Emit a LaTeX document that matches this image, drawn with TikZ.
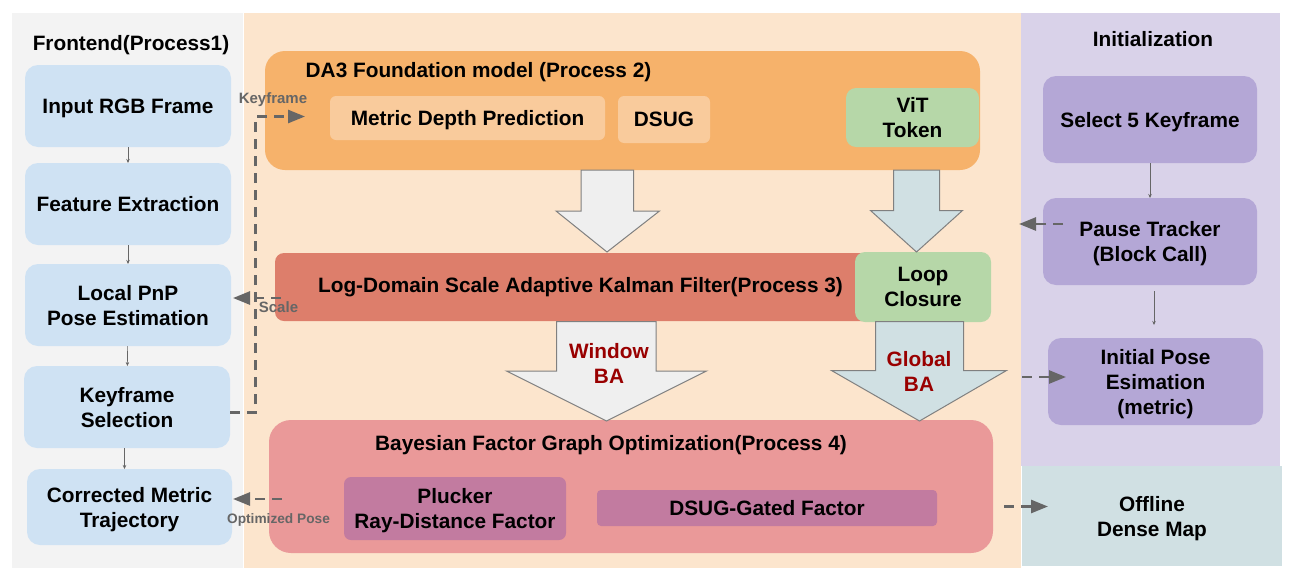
\documentclass[tikz,border=0pt]{standalone}
\usepackage{fontspec}
\setmainfont{Liberation Sans}
\usepackage{xcolor}
\usetikzlibrary{calc,
	positioning,
	arrows.meta}
\definecolor{panelgray}{HTML}{F3F3F3}
\definecolor{panelorange}{HTML}{FCE5CD}
\definecolor{panelpurple}{HTML}{D9D2E9}
\definecolor{panelteal}{HTML}{D0E0E3}
\definecolor{boxblue}{HTML}{CFE2F3}
\definecolor{boxpurple}{HTML}{B4A7D6}
\definecolor{boxorange}{HTML}{F6B26B}
\definecolor{boxpeach}{HTML}{F9CB9C}
\definecolor{boxgreen}{HTML}{B6D7A8}
\definecolor{boxred}{HTML}{DD7E6B}
\definecolor{boxpink}{HTML}{EA9999}
\definecolor{boxplum}{HTML}{C27BA0}
\definecolor{blockgray}{HTML}{EFEFEF}
\definecolor{dashgray}{HTML}{666666}
\definecolor{bardred}{HTML}{990000}
\tikzstyle{txt}=[font=\fontsize{20.8}{25}\selectfont\bfseries, align=center, text depth=-1pt, inner sep=0, outer sep=0]
\tikzstyle{small}=[font=\fontsize{15}{18}\selectfont\bfseries, text=dashgray, text depth=0pt, inner sep=0, outer sep=0]
\tikzstyle{panel}=[inner sep=0, outer sep=0]
\tikzstyle{front}=[txt, fill=boxblue, rounded corners=13pt, minimum width=206pt, minimum height=82pt]
\tikzstyle{init}=[txt, fill=boxpurple, rounded corners=13pt, minimum width=214pt, minimum height=87pt]
\tikzstyle{peach}=[txt, fill=boxpeach, rounded corners=6pt]
\tikzstyle{green}=[txt, fill=boxgreen, rounded corners=10pt]
\tikzstyle{plum}=[txt, fill=boxplum, rounded corners=7pt]
\tikzstyle{block}=[draw=gray, line width=1pt, line join=miter]
\tikzstyle{thin}=[draw=dashgray, line width=0.6pt, -{Stealth[length=4pt,width=3.5pt]}]
\tikzstyle{dasharrow}=[draw=dashgray, line width=2.6pt, dash pattern=on 10pt off 7pt, -{Triangle[length=17pt,width=13pt,sep=0pt]}]
\begin{document}
\begin{tikzpicture}[x=1pt, y=-1pt]
    \useasboundingbox (0,0) rectangle (1295,576);

    \node[panel, fill=panelgray, minimum width=231pt, minimum height=555pt] (frontpanel) at (127.5,290.5) {};
    \node[panel, fill=panelorange, minimum width=777pt, minimum height=555pt] (midpanel) at (632.5,290.5) {};
    \node[panel, fill=panelpurple, minimum width=259pt, minimum height=453pt] (initpanel) at (1150.5,239.5) {};
    \node[txt, fill=panelteal, minimum width=260pt, minimum height=100pt] (offline) at (1152,516) {Offline\\Dense Map};

    \node[txt] (fronttitle) at (131,43) {Frontend(Process1)};
    \node[front] (input) at (128,106) {Input RGB Frame};
    \node[front] (feature) at (128,204) {Feature Extraction};
    \node[front] (local) at (128,305) {Local PnP\\Pose Estimation};
    \node[front] (kfsel) at (127,407) {Keyframe\\Selection};
    \node[front, minimum width=205pt, minimum height=76pt] (corrected) at (129.5,507) {Corrected Metric\\Trajectory};

    \node[fill=boxorange, rounded corners=20pt, minimum width=715pt, minimum height=119pt, inner sep=0] (da3) at (622.5,110.5) {};
    \node[txt] (da3title) at (478.5,70) {DA3 Foundation model (Process 2)};
    \node[peach, minimum width=275pt, minimum height=44pt] (metric) at (467.5,118) {Metric Depth Prediction};
    \node[peach, minimum width=92pt, minimum height=47pt] (dsug) at (664,119.5) {DSUG};
    \node[green, minimum width=133pt, minimum height=59pt] (vit) at (912.5,117.5) {ViT\\Token};

    \node[fill=boxred, rounded corners=9pt, minimum width=600pt, minimum height=68pt, inner sep=0] (logkf) at (575,287) {};
    \node[txt] (logtitle) at (580.5,285) {Log-Domain Scale Adaptive Kalman Filter(Process 3)};
    \node[green, minimum width=136pt, minimum height=70pt] (loop) at (923,287) {Loop\\Closure};

    \node[fill=boxpink, rounded corners=22pt, minimum width=724pt, minimum height=133pt, inner sep=0] (bayes) at (631,486.5) {};
    \node[txt] (bayestitle) at (611,443) {Bayesian Factor Graph Optimization(Process 4)};
    \node[plum, minimum width=222pt, minimum height=63pt] (plucker) at (455,508.5) {Plucker\\Ray-Distance Factor};
    \node[plum, rounded corners=4pt, minimum width=340pt, minimum height=36pt] (gated) at (767,508) {DSUG-Gated Factor};

    \node[txt] (inittitle) at (1153,39) {Initialization};
    \node[init] (select) at (1150,119.5) {Select 5 Keyframe};
    \node[init] (pause) at (1150,241.5) {Pause Tracker\\(Block Call)};
    \node[init, minimum width=215pt] (initial) at (1155.5,381.5) {Initial Pose\\Esimation\\(metric)};

    \draw[block, fill=blockgray] (581,170) -- (633.5,170) -- (633.5,211) -- (659.5,211) -- (607,252) -- (556,211) -- (581,211) -- cycle;
    \draw[block, fill=panelteal] (893.5,170) -- (939.5,170) -- (939.5,210.5) -- (962.5,210.5) -- (916.5,252) -- (870.5,210.5) -- (893.5,210.5) -- cycle;
    \draw[block, fill=blockgray] (556.5,321.5) -- (656,321.5) -- (656,371) -- (706.5,371) -- (606.5,421) -- (506.5,371) -- (556.5,371) -- cycle;
    \draw[block, fill=panelteal] (875.5,321.5) -- (963.5,321.5) -- (963.5,370.5) -- (1006.5,370.5) -- (919.5,421) -- (831.5,370.5) -- (875.5,370.5) -- cycle;
    \node[txt, text=bardred] (windowba) at (609,363.5) {Window\\BA};
    \node[txt, text=bardred] (globalba) at (919,371) {Global\\BA};

    \draw[thin] (input) -- (feature);
    \draw[thin] (feature) -- (local);
    \draw[thin] (local) -- (kfsel);
    \draw[thin] ([xshift=-2.5pt]kfsel.south) -- ([xshift=-5pt]corrected.north);
    \draw[thin] (select) -- (pause);
    \draw[thin, shorten <=6pt, shorten >=13pt] ([xshift=4pt]pause.south) -- ([xshift=-1.5pt]initial.north);

    \coordinate (kfturn) at (255.5,412.5);
    \coordinate (kfend) at (305,116.5);
    \coordinate (pauseend) at (1019,224);
    \coordinate (globalstart) at (1022,377);
    \draw[dasharrow] ([yshift=-5.5pt]kfsel.east) -- (kfturn) |- (kfend);
    \draw[dasharrow] ([xshift=6pt,yshift=-11pt]logkf.west) -- ([xshift=2pt,yshift=7pt]local.east);
    \draw[dasharrow] ([xshift=13pt,yshift=-12.5pt]bayes.west) -- ([xshift=1pt,yshift=8pt]corrected.east);
    \draw[dasharrow] ([xshift=20pt,yshift=17.5pt]pause.west) -- (pauseend);
    \draw[dasharrow] (globalstart) -- ([xshift=18pt,yshift=4.5pt]initial.west);
    \draw[dasharrow] ([xshift=11pt,yshift=-20pt]bayes.east) -- ([xshift=26pt,yshift=9.5pt]offline.west);

    \node[small] (kflabel) at (273,98) {Keyframe};
    \node[small] (scalelabel) at (278.5,307) {Scale};
    \node[small, font=\fontsize{13.7}{16}\selectfont\bfseries] (optlabel) at (278.5,519) {Optimized Pose};
\end{tikzpicture}
\end{document}
